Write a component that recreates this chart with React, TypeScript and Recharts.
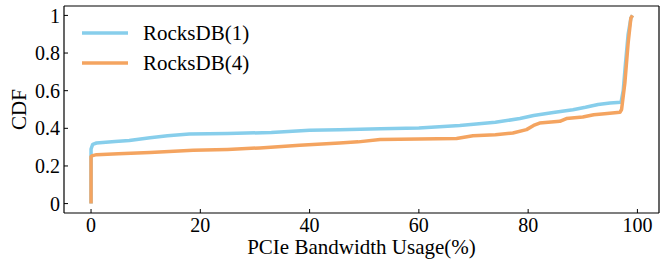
import React from "react";
import {
  LineChart,
  Line,
  XAxis,
  YAxis,
  Legend,
  ReferenceLine,
} from "recharts";

const FONT = "Liberation Serif, Times New Roman, serif";

const rocks1Usage = [
  0, 0, 0.3, 1, 4.4, 7, 10.8, 14, 18, 25, 33, 40, 45.5, 53, 60, 67.5, 74,
  78.5, 81, 84.6, 88.2, 90.5, 92.8, 95, 97, 97.4, 97.8, 98.3, 98.8, 99.1,
];
const rocks1Cdf = [
  0, 0.29, 0.315, 0.322, 0.33, 0.335, 0.35, 0.36, 0.37, 0.372, 0.378, 0.39,
  0.393, 0.398, 0.402, 0.415, 0.432, 0.452, 0.468, 0.484, 0.499, 0.512, 0.527,
  0.535, 0.538, 0.6, 0.74, 0.9, 0.985, 1.0,
];

const rocks4Usage = [
  0, 0, 0.3, 1, 5, 10.8, 18.7, 25, 30.9, 38.2, 45.5, 48.9, 52.9, 60, 66.9,
  69.9, 74, 77.2, 79.7, 81, 82.1, 85.8, 87, 90, 92, 94, 96.8, 97.1, 97.7, 98.3,
  98.8, 99.1,
];
const rocks4Cdf = [
  0, 0.25, 0.255, 0.26, 0.265, 0.272, 0.283, 0.288, 0.296, 0.31, 0.322, 0.328,
  0.34, 0.343, 0.346, 0.36, 0.366, 0.375, 0.393, 0.415, 0.428, 0.437, 0.452,
  0.46, 0.472, 0.478, 0.485, 0.5, 0.64, 0.853, 0.985, 1.0,
];

const xTicks = [0, 20, 40, 60, 80, 100];
const yTicks = [0, 0.2, 0.4, 0.6, 0.8, 1];
const xDomain = [-4.95, 103.95];
const yDomain = [-0.05, 1.05];

const rocks1Data = rocks1Usage.map((x, i) => ({ x, cdf: rocks1Cdf[i] }));
const rocks4Data = rocks4Usage.map((x, i) => ({ x, cdf: rocks4Cdf[i] }));

const tickStyle = { fontSize: 20, fill: "#000", fontFamily: FONT };

function renderLegend(props: any) {
  const { payload } = props;
  return (
    <div style={{ fontFamily: FONT, fontSize: 21, color: "#000" }}>
      {payload.map((p: any) => (
        <div
          key={p.value}
          style={{ display: "flex", alignItems: "center", height: 30 }}
        >
          <svg width={46} height={4}>
            <line x1={0} x2={46} y1={2} y2={2} stroke={p.color} strokeWidth={3.5} />
          </svg>
          <span style={{ marginLeft: 15, lineHeight: "30px" }}>{p.value}</span>
        </div>
      ))}
    </div>
  );
}

export default function App() {
  return (
    <div>
      <style>{"body{margin:0}"}</style>
      <LineChart
        width={668}
        height={261}
        margin={{ top: 6, right: 9, left: 0, bottom: 0 }}
      >
        <XAxis
          type="number"
          dataKey="x"
          domain={xDomain}
          ticks={xTicks}
          allowDataOverflow
          height={48}
          axisLine={{ stroke: "#000", strokeWidth: 1.2 }}
          tickLine={{ stroke: "#000" }}
          tickSize={-4}
          tickMargin={8.8}
          tick={tickStyle}
          label={{
            value: "PCIe Bandwidth Usage(%)",
            position: "insideBottom",
            offset: 7,
            style: { fontSize: 21, fill: "#000", fontFamily: FONT },
          }}
        />
        <YAxis
          type="number"
          domain={yDomain}
          ticks={yTicks}
          allowDataOverflow
          width={64}
          axisLine={{ stroke: "#000", strokeWidth: 1.2 }}
          tickLine={{ stroke: "#000" }}
          tickSize={-4}
          tickMargin={8}
          tick={tickStyle}
          label={{
            value: "CDF",
            angle: -90,
            position: "insideLeft",
            offset: 18.5,
            style: { fontSize: 21, fill: "#000", fontFamily: FONT, textAnchor: "middle" },
          }}
        />
        {/* top and right edges of the frame */}
        <ReferenceLine y={yDomain[1]} stroke="#000" strokeWidth={1.2} ifOverflow="visible" />
        <ReferenceLine x={xDomain[1]} stroke="#000" strokeWidth={1.2} ifOverflow="visible" />
        <Legend
          layout="vertical"
          align="center"
          verticalAlign="middle"
          content={renderLegend}
          wrapperStyle={{ left: 82, top: 18, width: "auto" }}
        />
        <Line
          data={rocks1Data}
          dataKey="cdf"
          name="RocksDB(1)"
          type="linear"
          stroke="#87CEEB"
          strokeWidth={3.5}
          strokeLinejoin="round"
          dot={false}
          isAnimationActive={false}
        />
        <Line
          data={rocks4Data}
          dataKey="cdf"
          name="RocksDB(4)"
          type="linear"
          stroke="#F4A460"
          strokeWidth={3.5}
          strokeLinejoin="round"
          dot={false}
          isAnimationActive={false}
        />
      </LineChart>
    </div>
  );
}
